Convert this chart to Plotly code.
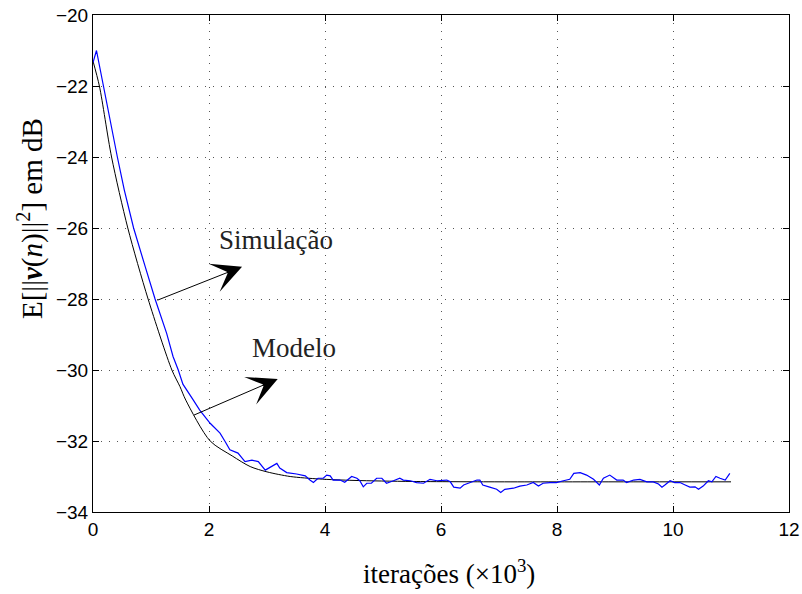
import plotly.graph_objects as go

# Simulation curve (blue), iterations x10^3 vs dB
sim_x = [0, 0.06, 0.18, 0.30, 0.42, 0.54, 0.70, 0.90, 1.07, 1.27, 1.38, 1.47, 1.55,
         1.73, 1.84, 2.02, 2.19, 2.28, 2.36, 2.50, 2.62, 2.74, 2.85, 2.97, 3.17, 3.22, 3.34,
         3.51, 3.66, 3.74, 3.80, 3.88, 3.97, 4.03, 4.09, 4.14, 4.26, 4.34, 4.46, 4.55, 4.60,
         4.66, 4.72, 4.80, 4.89, 4.98, 5.06, 5.18, 5.29, 5.35, 5.47, 5.58, 5.70, 5.81, 5.93,
         6.10, 6.16, 6.22, 6.33, 6.39, 6.50, 6.62, 6.67, 6.72, 6.84, 6.96, 7.03, 7.10, 7.25,
         7.36, 7.48, 7.59, 7.68, 7.76, 7.88, 7.99, 8.11, 8.22, 8.29, 8.40, 8.51, 8.63, 8.73,
         8.80, 8.91, 9.03, 9.14, 9.20, 9.32, 9.43, 9.55, 9.66, 9.75, 9.81, 9.86, 9.95, 10.03,
         10.12, 10.21, 10.29, 10.38, 10.44, 10.52, 10.61, 10.67, 10.74, 10.81, 10.90, 10.98]
sim_y = [-21.34, -21.0, -22.0, -23.05, -24.0, -24.93, -26.0, -27.09, -28.0, -28.97,
         -29.62, -30.0, -30.4, -30.85, -31.13, -31.5, -31.78, -32.02, -32.25, -32.34, -32.58,
         -32.54, -32.58, -32.82, -32.63, -32.76, -32.89, -32.93, -32.98, -33.1, -33.17, -33.05,
         -33.05, -32.96, -32.98, -33.1, -33.1, -33.16, -33.0, -33.05, -33.12, -33.29, -33.19,
         -33.19, -33.05, -33.05, -33.19, -33.12, -33.05, -33.1, -33.12, -33.17, -33.19, -33.08,
         -33.12, -33.1, -33.15, -33.3, -33.33, -33.24, -33.17, -33.1, -33.1, -33.24, -33.3,
         -33.36, -33.45, -33.36, -33.33, -33.27, -33.24, -33.17, -33.27, -33.19, -33.17, -33.17,
         -33.12, -33.08, -32.91, -32.89, -32.96, -33.08, -33.24, -33.05, -32.96, -33.1, -33.1,
         -33.17, -33.1, -33.08, -33.15, -33.15, -33.21, -33.3, -33.24, -33.12, -33.17, -33.17,
         -33.24, -33.3, -33.29, -33.36, -33.27, -33.12, -33.15, -33.0, -33.05, -33.1, -32.91]

# Model curve (black)
mod_x = [0, 0.11, 0.32, 0.60, 0.95, 1.36, 1.50, 1.60, 2.02, 2.40, 2.71, 3.00, 3.40, 3.90,
         4.50, 5.50, 7.00, 9.00, 11.0]
mod_y = [-21.3, -22.0, -24.0, -26.0, -28.0, -30.0, -30.47, -30.85, -32.0, -32.42, -32.72,
         -32.87, -33.0, -33.07, -33.11, -33.14, -33.15, -33.15, -33.15]

# Annotation labels / arrows (text, text pos, arrow tail, arrow tip)
labels = ["Simulação", "Modelo"]
label_x = [3.16, 3.47]
label_y = [-26.34, -29.38]
tail_x = [1.086, 1.712]
tail_y = [-28.05, -31.29]
tip_x = [2.57, 3.185]
tip_y = [-27.09, -30.25]

x_ticks = [0, 2, 4, 6, 8, 10, 12]
y_ticks = [-34, -32, -30, -28, -26, -24, -22, -20]

x_title = "iterações (×10<sup>3</sup>)"
y_title = "E[||<b><i>v</i></b>(<i>n</i>)||<sup>2</sup>] em dB"

fig = go.Figure()
fig.add_trace(go.Scatter(x=mod_x, y=mod_y, mode="lines",
                         line=dict(color="black", width=1, shape="spline", smoothing=0.8),
                         showlegend=False, hoverinfo="skip"))
fig.add_trace(go.Scatter(x=sim_x, y=sim_y, mode="lines", line=dict(color="#0000ff", width=1.2),
                         showlegend=False, hoverinfo="skip"))

annotations = []
for i in range(len(labels)):
    annotations.append(dict(x=label_x[i], y=label_y[i], xref="x", yref="y", text=labels[i],
                            showarrow=False, font=dict(family="Liberation Serif", size=27, color="#222")))
    annotations.append(dict(x=tip_x[i], y=tip_y[i], xref="x", yref="y", ax=tail_x[i], ay=tail_y[i],
                            axref="x", ayref="y", text="", showarrow=True, arrowhead=3, arrowsize=5,
                            arrowwidth=1, arrowcolor="black", standoff=0, startstandoff=0))

# axis titles as annotations for exact placement
annotations.append(dict(x=-63 / 696, y=(512 - 219) / 497, xref="paper", yref="paper",
                        text=y_title, textangle=-90, showarrow=False, xanchor="center", yanchor="middle",
                        font=dict(family="Liberation Serif", size=29, color="black")))
annotations.append(dict(x=(449 - 93) / 696, y=-(572 - 512) / 497, xref="paper", yref="paper",
                        text=x_title, showarrow=False, xanchor="center", yanchor="middle",
                        font=dict(family="Liberation Serif", size=27, color="black")))

axis_common = dict(showline=True, linecolor="black", linewidth=1, mirror="ticks", ticks="inside",
                   ticklen=6, tickcolor="black", showgrid=True, gridcolor="#555", gridwidth=1,
                   griddash="1px,7px", zeroline=False, automargin=False,
                   tickfont=dict(family="Liberation Sans", size=19, color="black"))

fig.update_layout(
    width=802, height=594,
    margin=dict(l=93, r=13, t=15, b=82),
    paper_bgcolor="white", plot_bgcolor="white",
    annotations=annotations,
    xaxis=dict(range=[0, 12], tickvals=x_ticks, ticktext=[str(v) for v in x_ticks], **axis_common),
    yaxis=dict(range=[-34, -20], tickvals=y_ticks, ticktext=["\u2212" + str(abs(v)) for v in y_ticks],
               **axis_common),
)

fig.write_html("out.html", config={"displayModeBar": False, "staticPlot": True},
               post_script="document.body.style.margin='0';document.body.style.padding='0';"
                           "document.body.style.overflow='hidden';")
